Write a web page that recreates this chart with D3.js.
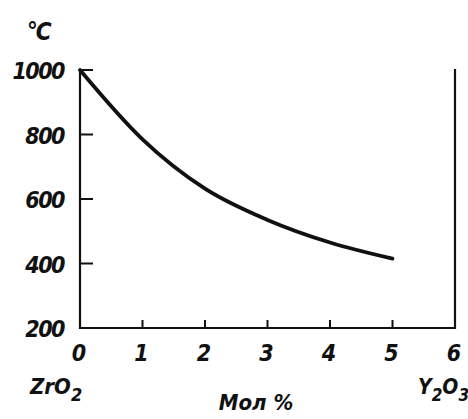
<!DOCTYPE html>
<html>
<head>
<meta charset="utf-8">
<script src="https://cdn.jsdelivr.net/npm/d3@7"></script>
<style>
body { margin: 0; background: #fff; }
text { font-family: "DejaVu Sans Condensed", "Liberation Sans Narrow", sans-serif; font-style: italic; font-weight: bold; fill: #111; }
</style>
</head>
<body>
<div id="chart"></div>
<script>
var molPct = [0, 1, 2, 3, 4, 5];
var tempC = [1000, 785, 632, 535, 465, 415];
var xTicks = [0, 1, 2, 3, 4, 5, 6];
var yTicks = [200, 400, 600, 800, 1000];

var margin = { top: 70, right: 13, bottom: 91, left: 80 },
width = 468 - margin.left - margin.right,
height = 419 - margin.top - margin.bottom;

var svg = d3.select("#chart")
.append("svg")
.attr("width", 468)
.attr("height", 419)
.append("g")
.attr("transform", "translate(" + margin.left + "," + margin.top + ")");

var x = d3.scaleLinear().domain([0, 6]).range([0, width]);
var y = d3.scaleLinear().domain([200, 1000]).range([height, 0]);

// inner ticks
svg.selectAll(".xt").data(xTicks.slice(1, 6)).enter().append("line")
  .attr("x1", d => x(d)).attr("x2", d => x(d))
  .attr("y1", height).attr("y2", height - 8)
  .attr("stroke", "#111").attr("stroke-width", 2);

svg.selectAll(".yt").data(yTicks.slice(1)).enter().append("line")
  .attr("x1", 0).attr("x2", 13)
  .attr("y1", d => y(d)).attr("y2", d => y(d))
  .attr("stroke", "#111").attr("stroke-width", 2);

// frame: left, bottom, right
svg.append("path")
  .attr("fill", "none")
  .attr("stroke", "#111")
  .attr("stroke-width", 2.2)
  .attr("d", "M" + x(0) + "," + y(1000) + "V" + y(200) + "H" + x(6) + "V" + (y(1000) - 1));

// tick labels
svg.selectAll(".yl").data(yTicks).enter().append("text")
  .attr("x", -16)
  .attr("y", d => y(d) + 9)
  .attr("text-anchor", "end")
  .attr("font-size", 23)
  .attr("letter-spacing", -1.5)
  .text(d => d);

svg.selectAll(".xl").data(xTicks).enter().append("text")
  .attr("x", d => x(d) - 1)
  .attr("y", height + 33)
  .attr("text-anchor", "middle")
  .attr("font-size", 23)
  .text(d => d);

svg.append("text")
  .attr("x", -53).attr("y", -30)
  .attr("font-size", 24)
  .attr("letter-spacing", -2)
  .text("°C");

var zr = svg.append("text").attr("x", -50).attr("y", height + 66).attr("font-size", 22);
zr.append("tspan").text("ZrO");
zr.append("tspan").attr("dy", 7).attr("font-size", 18).text("2");

svg.append("text")
  .attr("x", x(2.22)).attr("y", height + 82)
  .attr("font-size", 22)
  .text("Мол %");

var yo = svg.append("text").attr("x", x(6) - 37).attr("y", height + 66).attr("font-size", 21);
yo.append("tspan").text("Y");
yo.append("tspan").attr("dy", 7).attr("font-size", 17).text("2");
yo.append("tspan").attr("dy", -7).text("O");
yo.append("tspan").attr("dy", 7).attr("font-size", 17).text("3");

// curve
var line = d3.line()
  .x((d, i) => x(molPct[i]))
  .y(d => y(d))
  .curve(d3.curveMonotoneX);

svg.append("path")
  .datum(tempC)
  .attr("fill", "none")
  .attr("stroke", "#111")
  .attr("stroke-width", 3.8)
  .attr("stroke-linecap", "round")
  .attr("d", line);
</script>
</body>
</html>
